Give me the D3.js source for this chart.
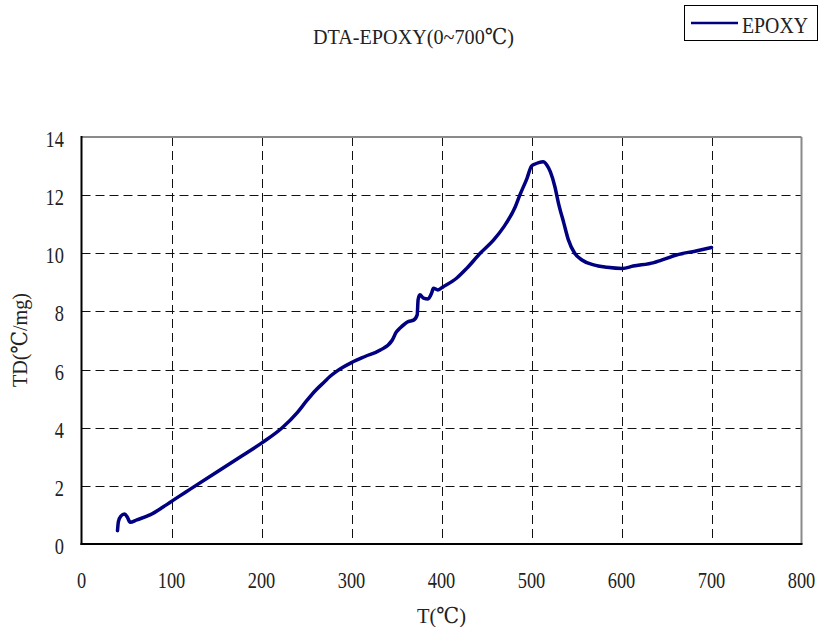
<!DOCTYPE html>
<html>
<head>
<meta charset="utf-8">
<script src="https://cdn.jsdelivr.net/npm/d3@7"></script>
<style>
  html, body { margin: 0; padding: 0; background: #fff; }
  svg { display: block; }
  text { font-family: "Liberation Serif", "DejaVu Serif", "Noto Sans CJK TC", serif; fill: #222; }
</style>
</head>
<body>
<svg id="chart" width="821" height="627"></svg>
<script>
// DTA curve of epoxy, temperature difference per mg versus temperature
const temperature = [40, 41, 43.7, 47.8, 51, 54, 61.5, 76, 91, 108, 120, 150, 175, 200, 223, 240, 250, 260, 270, 276,
  283, 290, 300, 315, 332, 345, 350, 354, 363, 369, 373, 374, 376, 380, 385, 389, 391, 396, 402, 417,
  428, 443, 458, 469, 482, 487, 495, 500, 504, 508, 513, 517, 521, 526, 530, 536, 541, 548, 556, 569,
  584, 601, 613, 636, 643, 661, 684, 700];
const tdPerMg = [0.46, 0.77, 0.96, 1.03, 0.92, 0.75, 0.83, 1.0, 1.28, 1.63, 1.87, 2.47, 2.97, 3.47, 4.0, 4.53, 4.92, 5.28, 5.58, 5.76,
  5.93, 6.07, 6.24, 6.45, 6.67, 7.0, 7.3, 7.43, 7.65, 7.7, 7.88, 8.4, 8.57, 8.46, 8.43, 8.63, 8.8, 8.74, 8.85, 9.15,
  9.48, 10.0, 10.46, 10.9, 11.6, 12.0, 12.58, 13.0, 13.07, 13.12, 13.15, 13.04, 12.8, 12.29, 11.72, 11.03, 10.46, 10.0, 9.77, 9.6,
  9.52, 9.48, 9.56, 9.68, 9.75, 9.94, 10.09, 10.2];
const xTicks = [0, 100, 200, 300, 400, 500, 600, 700, 800];
const yTicks = [0, 2, 4, 6, 8, 10, 12, 14];
const seriesName = "EPOXY";
const title = "DTA-EPOXY(0~700℃)";
const xTitle = "T(℃)";
const yTitle = "TD(℃/mg)";

const svg = d3.select("#chart");
const plotL = 81.5, plotR = 801.5, plotT = 137, plotB = 544;

const x = d3.scaleLinear().domain([0, 800]).range([plotL, plotR]);
const y = d3.scaleLinear().domain([0, 14]).range([plotB, plotT]);

// dashed grid
const grid = svg.append("g");
grid.selectAll("line.v").data(xTicks.filter(t => t > 0 && t < 800)).join("line")
  .attr("x1", d => Math.round(x(d)) + 0.5).attr("x2", d => Math.round(x(d)) + 0.5)
  .attr("y1", plotT).attr("y2", plotB)
  .attr("stroke", "#111").attr("stroke-width", 1).attr("stroke-dasharray", "9,5");
grid.selectAll("line.h").data(yTicks.filter(t => t > 0 && t < 14)).join("line")
  .attr("y1", d => Math.round(y(d)) + 0.5).attr("y2", d => Math.round(y(d)) + 0.5)
  .attr("x1", plotL).attr("x2", plotR)
  .attr("stroke", "#111").attr("stroke-width", 1).attr("stroke-dasharray", "9,5");

// plot frame: grey top/right, black axes
svg.append("line").attr("x1", plotL).attr("x2", plotR).attr("y1", plotT).attr("y2", plotT)
  .attr("stroke", "#8a8a8a").attr("stroke-width", 2);
svg.append("line").attr("x1", plotR).attr("x2", plotR).attr("y1", plotT).attr("y2", plotB)
  .attr("stroke", "#8a8a8a").attr("stroke-width", 2);
svg.append("line").attr("x1", plotL).attr("x2", plotL).attr("y1", plotT - 1).attr("y2", plotB + 1)
  .attr("stroke", "#000").attr("stroke-width", 2);
svg.append("line").attr("x1", plotL - 1).attr("x2", plotR + 1).attr("y1", plotB).attr("y2", plotB)
  .attr("stroke", "#000").attr("stroke-width", 2);

// narrowed serif text helper
function label(g, str, px, py, size, anchor, sx) {
  return g.append("text")
    .attr("transform", `translate(${px},${py}) scale(${sx},1)`)
    .attr("font-size", size).attr("text-anchor", anchor).text(str);
}

const labels = svg.append("g");
xTicks.forEach(t => label(labels, String(t), x(t), 588, 23, "middle", 0.8));
yTicks.forEach(t => label(labels, String(t), 64, y(t) + 10, 23, "end", 0.8));

// titles
svg.append("text").attr("x", 313).attr("y", 44).attr("font-size", 22)
  .attr("textLength", 201).attr("lengthAdjust", "spacingAndGlyphs").text(title);
svg.append("text").attr("x", 417).attr("y", 623).attr("font-size", 22)
  .attr("textLength", 49).attr("lengthAdjust", "spacingAndGlyphs").text(xTitle);
svg.append("text").attr("transform", "translate(27,387) rotate(-90)").attr("font-size", 22)
  .attr("textLength", 94).attr("lengthAdjust", "spacingAndGlyphs").text(yTitle);

// curve
const line = d3.line()
  .x((d, i) => x(temperature[i]))
  .y(d => y(d))
  .curve(d3.curveMonotoneX);
svg.append("path").datum(tdPerMg).attr("d", line)
  .attr("fill", "none").attr("stroke", "#000080").attr("stroke-width", 3.5)
  .attr("stroke-linejoin", "round").attr("stroke-linecap", "round");

// legend
const lg = svg.append("g");
lg.append("rect").attr("x", 684.5).attr("y", 5.5).attr("width", 133).attr("height", 35)
  .attr("fill", "#fff").attr("stroke", "#000").attr("stroke-width", 1);
lg.append("line").attr("x1", 691).attr("x2", 738).attr("y1", 23).attr("y2", 23)
  .attr("stroke", "#000080").attr("stroke-width", 2.5);
lg.append("text").attr("x", 742).attr("y", 33).attr("font-size", 23)
  .attr("textLength", 66).attr("lengthAdjust", "spacingAndGlyphs").text(seriesName);
</script>
</body>
</html>
